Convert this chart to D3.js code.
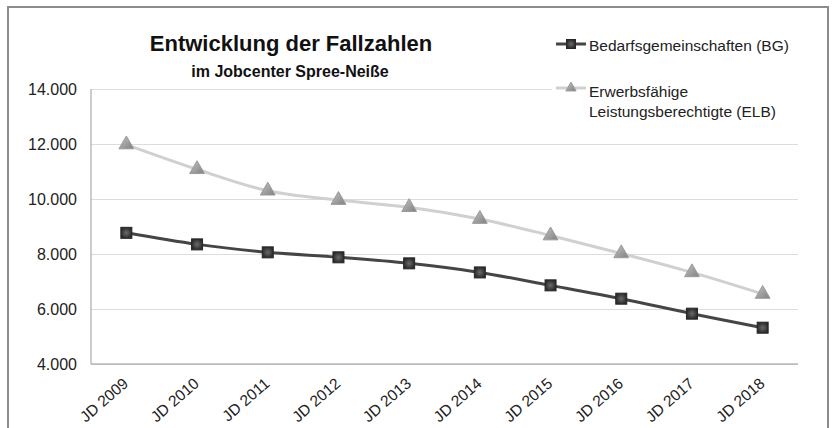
<!DOCTYPE html>
<html>
<head>
<meta charset="utf-8">
<script src="https://cdn.jsdelivr.net/npm/d3@7"></script>
<style>
  body { margin: 0; background: #fff; }
  svg { display: block; font-family: "Liberation Sans", Arial, sans-serif; }
  .grid line { stroke: #dcdcdc; }
  .grid path { display: none; }
  .axis path, .axis line { stroke: #9a9a9a; }
  .axis text { fill: #222; }
</style>
</head>
<body>
<svg id="chart" width="833" height="428"></svg>
<script>
const years = ['JD 2009', 'JD 2010', 'JD 2011', 'JD 2012', 'JD 2013',
  'JD 2014', 'JD 2015', 'JD 2016', 'JD 2017', 'JD 2018'];
const bgValues = [8770, 8350, 8060, 7880, 7660, 7330, 6860, 6375, 5830, 5320];
const elbValues = [11980, 11080, 10300, 9960, 9700, 9270, 8670, 8020, 7330, 6545];
const yTicks = [4000, 6000, 8000, 10000, 12000, 14000];

const svg = d3.select('#chart');

const width = 833;
const height = 428;
const margin = { top: 89, right: 35, bottom: 64, left: 91 };
const chartWidth = width - margin.left - margin.right;
const chartHeight = height - margin.top - margin.bottom;
const font = '"Liberation Sans", Arial, sans-serif';

// frame
svg.append('rect')
  .attr('x', 8).attr('y', 7)
  .attr('width', 820).attr('height', 440)
  .attr('fill', '#fff')
  .attr('stroke', '#8c8c8c')
  .attr('stroke-width', 2);

const g = svg.append('g')
  .attr('transform', `translate(${margin.left},${margin.top})`);

const x = d3.scaleBand().domain(years).range([0, chartWidth]);
const y = d3.scaleLinear().domain([4000, 14000]).range([chartHeight, 0]);
const cx = (d) => x(d) + x.bandwidth() / 2;

const fmt = (v) => d3.format(',')(v).replace(/,/g, '.');

//
// GRID
//
g.append('g')
  .attr('class', 'grid')
  .call(d3.axisLeft(y).tickValues(yTicks).tickSize(-chartWidth).tickFormat(() => ''));

//
// AXES
//
const yAxis = g.append('g')
  .attr('class', 'axis')
  .call(d3.axisLeft(y).tickValues(yTicks).tickSize(0).tickPadding(14).tickFormat(fmt))
  .attr('font-family', font)
  .attr('font-size', 16);
yAxis.select('.domain').attr('d', `M0,0V${chartHeight}`);

const xAxis = g.append('g')
  .attr('class', 'axis')
  .attr('transform', `translate(0,${chartHeight})`)
  .call(d3.axisBottom(x).tickSize(0).tickPadding(0))
  .attr('font-family', font)
  .attr('font-size', 15.5);
xAxis.select('.domain').attr('d', `M0,0H${chartWidth}`);
xAxis.selectAll('text')
  .attr('text-anchor', 'end')
  .attr('dy', '0')
  .attr('transform', 'translate(3,21) rotate(-41)');

//
// LINES
//
const line = d3.line()
  .curve(d3.curveCatmullRom.alpha(0.5))
  .x((d, i) => cx(years[i]))
  .y((d) => y(d));

g.append('path')
  .datum(elbValues)
  .attr('fill', 'none')
  .attr('stroke', '#d0d0d0')
  .attr('stroke-width', 3)
  .attr('d', line);

g.append('path')
  .datum(bgValues)
  .attr('fill', 'none')
  .attr('stroke', '#454545')
  .attr('stroke-width', 3)
  .attr('d', line);

//
// MARKERS
//
const defs = svg.append('defs');
const triGrad = defs.append('linearGradient').attr('id', 'triGrad')
  .attr('x1', 0).attr('y1', 0).attr('x2', 1).attr('y2', 1);
triGrad.append('stop').attr('offset', '0%').attr('stop-color', '#c4c4c4');
triGrad.append('stop').attr('offset', '100%').attr('stop-color', '#808080');
const sqGrad = defs.append('radialGradient').attr('id', 'sqGrad');
sqGrad.append('stop').attr('offset', '0%').attr('stop-color', '#6a6a6a');
sqGrad.append('stop').attr('offset', '100%').attr('stop-color', '#2c2c2c');

const tri = d3.symbol().type(d3.symbolTriangle).size(95);

g.selectAll('.elb')
  .data(elbValues)
  .join('path')
  .attr('class', 'elb')
  .attr('transform', (d, i) => `translate(${cx(years[i])},${y(d)})`)
  .attr('d', tri)
  .attr('fill', 'url(#triGrad)')
  .attr('stroke', '#9a9a9a')
  .attr('stroke-width', 1);

g.selectAll('.bg')
  .data(bgValues)
  .join('rect')
  .attr('class', 'bg')
  .attr('x', (d, i) => cx(years[i]) - 5.5)
  .attr('y', (d) => y(d) - 5.5)
  .attr('width', 11)
  .attr('height', 11)
  .attr('fill', 'url(#sqGrad)')
  .attr('stroke', '#262626')
  .attr('stroke-width', 1);

//
// TITLE
//
svg.append('text')
  .attr('x', 291).attr('y', 51)
  .attr('text-anchor', 'middle')
  .attr('font-size', '22px')
  .attr('font-weight', 'bold')
  .attr('fill', '#111')
  .text('Entwicklung der Fallzahlen');

svg.append('text')
  .attr('x', 290).attr('y', 77)
  .attr('text-anchor', 'middle')
  .attr('font-size', '16px')
  .attr('font-weight', 'bold')
  .attr('fill', '#111')
  .text('im Jobcenter Spree-Neiße');

//
// LEGEND
//
const legend = svg.append('g');
legend.append('rect')
  .attr('x', 552).attr('y', 28)
  .attr('width', 250).attr('height', 94)
  .attr('fill', '#fff');

legend.append('line')
  .attr('x1', 556).attr('x2', 586).attr('y1', 44).attr('y2', 44)
  .attr('stroke', '#454545').attr('stroke-width', 3);
legend.append('rect')
  .attr('x', 566.5).attr('y', 39.5).attr('width', 9).attr('height', 9)
  .attr('fill', 'url(#sqGrad)').attr('stroke', '#262626');
legend.append('text')
  .attr('x', 589).attr('y', 50.5)
  .attr('font-size', '15.5px').attr('fill', '#222')
  .text('Bedarfsgemeinschaften (BG)');

legend.append('line')
  .attr('x1', 556).attr('x2', 586).attr('y1', 88).attr('y2', 88)
  .attr('stroke', '#d0d0d0').attr('stroke-width', 3);
legend.append('path')
  .attr('transform', 'translate(571,88)')
  .attr('d', d3.symbol().type(d3.symbolTriangle).size(45))
  .attr('fill', 'url(#triGrad)').attr('stroke', '#9a9a9a');
const elbText = legend.append('text')
  .attr('font-size', '15.5px').attr('fill', '#222');
elbText.append('tspan').attr('x', 589).attr('y', 96.5).text('Erwerbsfähige');
elbText.append('tspan').attr('x', 589).attr('y', 116.5).text('Leistungsberechtigte (ELB)');
</script>
</body>
</html>
